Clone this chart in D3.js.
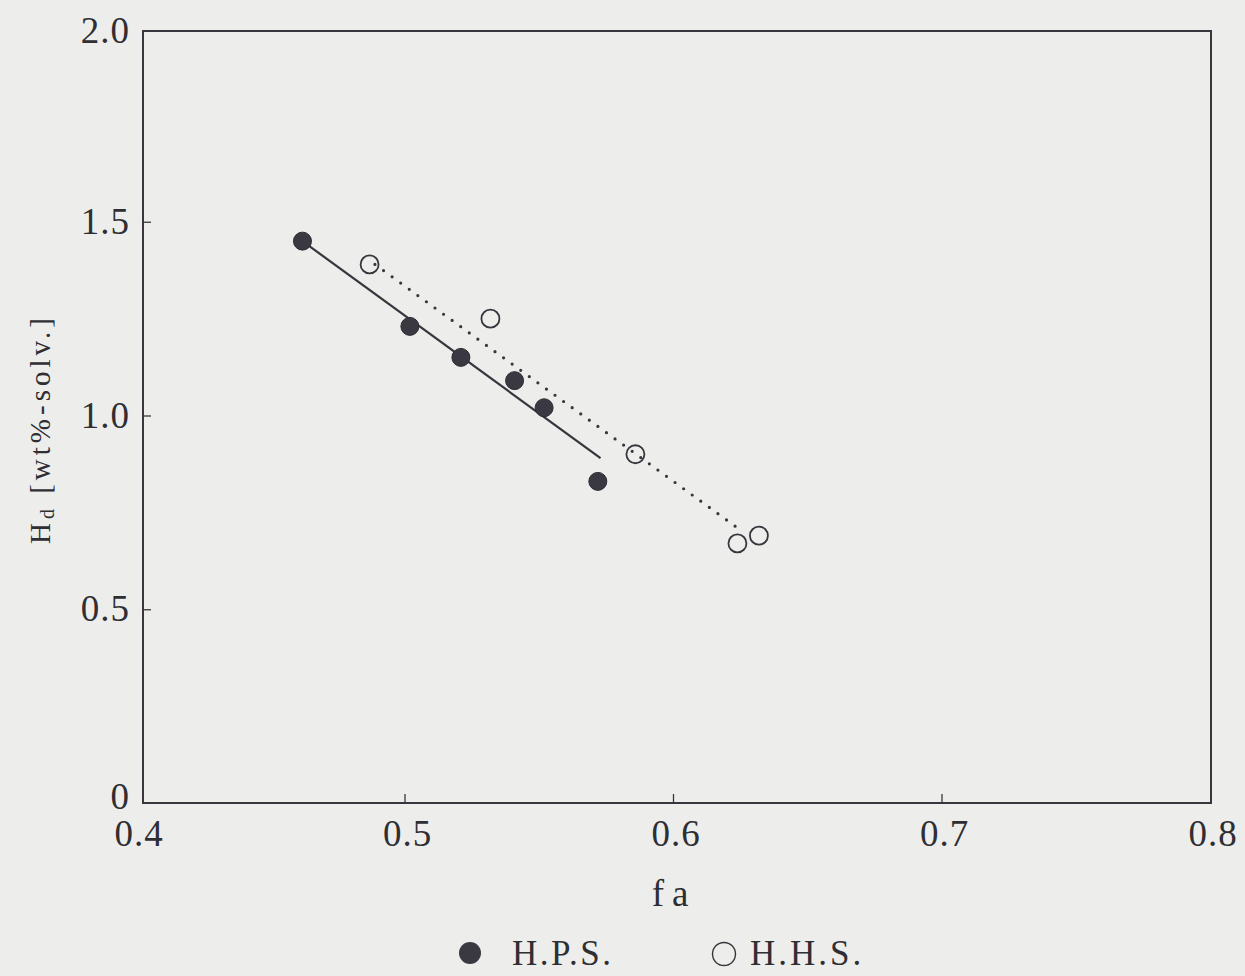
<!DOCTYPE html>
<html>
<head>
<meta charset="utf-8">
<script src="https://cdn.jsdelivr.net/npm/d3@7"></script>
<style>
  html, body { margin: 0; padding: 0; background: #ededec; }
  svg { display: block; }
  text { font-family: "Times New Roman", "Liberation Serif", Times, serif; fill: #2f2e33; }
</style>
</head>
<body>
<svg id="chart" width="1245" height="976"></svg>
<script>
// H.P.S. (filled) and H.H.S. (open) samples: fa vs Hd
const hpsFa = [0.462, 0.502, 0.521, 0.541, 0.552, 0.572];
const hpsHd = [1.45, 1.23, 1.15, 1.09, 1.02, 0.83];
const hhsFa = [0.487, 0.532, 0.586, 0.624, 0.632];
const hhsHd = [1.39, 1.25, 0.90, 0.67, 0.69];

// fitted lines, endpoints
const hpsFitFa = [0.462, 0.573];
const hpsFitHd = [1.45, 0.89];
const hhsFitFa = [0.489, 0.625];
const hhsFitHd = [1.39, 0.705];

const xTicks = [0.4, 0.5, 0.6, 0.7, 0.8];
const xTickLabels = ["0.4", "0.5", "0.6", "0.7", "0.8"];
const yTicks = [0, 0.5, 1.0, 1.5, 2.0];
const yTickLabels = ["0", "0.5", "1.0", "1.5", "2.0"];
const seriesNames = ["H.P.S.", "H.H.S."];

const ink = "#38363c";
const frame = { left: 143, right: 1211, top: 31, bottom: 803 };

const svg = d3.select("#chart");
const x = d3.scaleLinear().domain([0.4, 0.8]).range([136, 1210]);
const y = d3.scaleLinear().domain([0, 2.0]).range([803, 28]);

// plot frame
svg.append("rect")
  .attr("x", frame.left).attr("y", frame.top)
  .attr("width", frame.right - frame.left)
  .attr("height", frame.bottom - frame.top)
  .attr("fill", "none").attr("stroke", ink).attr("stroke-width", 2);

// inward tick marks
const xAxis = d3.axisBottom(x).tickValues(xTicks.slice(1, -1)).tickSize(-9).tickFormat("");
svg.append("g").attr("transform", `translate(0,${frame.bottom})`).call(xAxis)
  .call(g => g.select(".domain").remove())
  .call(g => g.selectAll("line").attr("stroke", ink).attr("stroke-width", 1.3));
const yAxis = d3.axisLeft(y).tickValues(yTicks.slice(1, -1)).tickSize(-8).tickFormat("");
svg.append("g").attr("transform", `translate(${frame.left},0)`).call(yAxis)
  .call(g => g.select(".domain").remove())
  .call(g => g.selectAll("line").attr("stroke", ink).attr("stroke-width", 1.3));

// tick labels
svg.append("g").selectAll("text").data(xTicks).join("text")
  .attr("x", d => x(d) + 3).attr("y", 846)
  .attr("text-anchor", "middle").attr("font-size", 37)
  .attr("letter-spacing", 1)
  .text((d, i) => xTickLabels[i]);
svg.append("g").selectAll("text").data(yTicks).join("text")
  .attr("x", 130)
  .attr("y", d => Math.max(frame.top, Math.min(y(d), frame.bottom - 6)) + 12)
  .attr("text-anchor", "end").attr("font-size", 37)
  .attr("letter-spacing", 1)
  .text((d, i) => yTickLabels[i]);

// axis titles
svg.append("text")
  .attr("x", 674).attr("y", 906)
  .attr("text-anchor", "middle").attr("font-size", 37)
  .attr("letter-spacing", 8)
  .text("fa");

const yTitle = svg.append("text")
  .attr("transform", "translate(50,431) rotate(-90)")
  .attr("text-anchor", "middle").attr("font-size", 29)
  .attr("textLength", 226).attr("lengthAdjust", "spacing");
yTitle.append("tspan").text("H");
yTitle.append("tspan").attr("font-size", 20).attr("dy", 4).text("d");
yTitle.append("tspan").attr("dy", -4).text("  [wt%-solv.]");

// fitted lines
const line = d3.line().x(d => x(d[0])).y(d => y(d[1]));
svg.append("path")
  .attr("d", line(d3.zip(hpsFitFa, hpsFitHd)))
  .attr("fill", "none").attr("stroke", ink).attr("stroke-width", 2.2);
svg.append("path")
  .attr("d", line(d3.zip(hhsFitFa, hhsFitHd)))
  .attr("fill", "none").attr("stroke", ink).attr("stroke-width", 3.2)
  .attr("stroke-linecap", "round").attr("stroke-dasharray", "0 10.6");

// markers
svg.append("g").selectAll("circle").data(d3.zip(hpsFa, hpsHd)).join("circle")
  .attr("cx", d => x(d[0])).attr("cy", d => y(d[1])).attr("r", 9)
  .attr("fill", "#3a3840").attr("stroke", "#2e2c33").attr("stroke-width", 1);
svg.append("g").selectAll("circle").data(d3.zip(hhsFa, hhsHd)).join("circle")
  .attr("cx", d => x(d[0])).attr("cy", d => y(d[1])).attr("r", 9)
  .attr("fill", "none").attr("stroke", ink).attr("stroke-width", 1.8);

// legend
const legend = svg.append("g");
legend.append("circle").attr("cx", 470).attr("cy", 953).attr("r", 11)
  .attr("fill", "#3a3840");
legend.append("text").attr("x", 512).attr("y", 965).attr("font-size", 35)
  .attr("letter-spacing", 2.5).text(seriesNames[0]);
legend.append("circle").attr("cx", 724).attr("cy", 954).attr("r", 11.5)
  .attr("fill", "none").attr("stroke", ink).attr("stroke-width", 1.4);
legend.append("text").attr("x", 750).attr("y", 965).attr("font-size", 35)
  .attr("letter-spacing", 3).text(seriesNames[1]);
</script>
</body>
</html>
